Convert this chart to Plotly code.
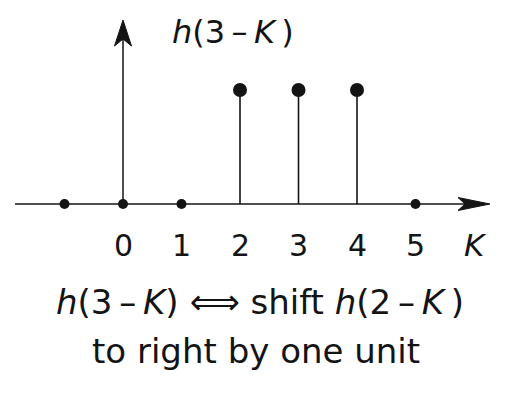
import plotly.graph_objects as go

# discrete sequence h(3-K)
k_vals = [-1, 0, 1, 2, 3, 4, 5]
h_vals = [0, 0, 0, 1, 1, 1, 0]
tick_labels = ["0", "1", "2", "3", "4", "5"]
tick_pos = [0, 1, 2, 3, 4, 5]

INK = "#141414"
FONT = "DejaVu Sans, sans-serif"
TS = "\u2009"  # thin space used in the formulas

# pixel layout of the drawing area (zero margins)
W, H = 505, 397
X0, XU = 123, 58.5    # pixel of K=0, pixels per unit
Y0, YU = 204, 114     # pixel of h=0, pixels per unit


def dx(p):
    return (p - X0) / XU


def dy(p):
    return (Y0 - p) / YU


def path(points):
    return "M " + " L ".join(f"{dx(px)},{dy(py)}" for px, py in points) + " Z"


fig = go.Figure()

# axes with barbed arrowheads
x_tail, x_tip = 15, 490
y_tip = 20
fig.add_shape(type="line", x0=dx(x_tail), y0=0, x1=dx(x_tip - 8), y1=0,
              line=dict(color=INK, width=1.5))
fig.add_shape(type="line", x0=0, y0=0, x1=0, y1=dy(y_tip + 8),
              line=dict(color=INK, width=1.5))
fig.add_shape(type="path", line=dict(color=INK, width=1), fillcolor=INK,
              path=path([(x_tip, Y0), (x_tip - 32, Y0 - 6.5), (x_tip - 25, Y0),
                         (x_tip - 32, Y0 + 6.5)]))
fig.add_shape(type="path", line=dict(color=INK, width=1), fillcolor=INK,
              path=path([(X0, y_tip), (X0 - 8.5, y_tip + 26), (X0, y_tip + 19),
                         (X0 + 8.5, y_tip + 26)]))

# stems for the nonzero samples
sx, sy = [], []
for k, h in zip(k_vals, h_vals):
    if h != 0:
        sx += [k, k, None]
        sy += [0, h, None]
fig.add_trace(go.Scatter(x=sx, y=sy, mode="lines",
                         line=dict(color=INK, width=1.6), hoverinfo="skip"))

# sample dots: large on top of stems, small on the axis
big = [(k, h) for k, h in zip(k_vals, h_vals) if h != 0]
small = [(k, h) for k, h in zip(k_vals, h_vals) if h == 0]
fig.add_trace(go.Scatter(x=[p[0] for p in big], y=[p[1] for p in big], mode="markers",
                         marker=dict(color=INK, size=14)))
fig.add_trace(go.Scatter(x=[p[0] for p in small], y=[p[1] for p in small], mode="markers",
                         marker=dict(color=INK, size=10)))

# tick labels
for t, lab in zip(tick_pos, tick_labels):
    fig.add_annotation(x=t, y=dy(245), text=lab, showarrow=False,
                       xanchor="center", yanchor="middle",
                       font=dict(family=FONT, size=30, color=INK))
fig.add_annotation(x=dx(475), y=dy(245), text="<i>K</i>", showarrow=False,
                   xanchor="center", yanchor="middle",
                   font=dict(family=FONT, size=31, color=INK))

# sequence label
fig.add_annotation(x=dx(233), y=dy(32),
                   text=f"<i>h</i>(3{TS}–{TS}<i>K</i>{TS})",
                   showarrow=False, xanchor="center", yanchor="middle",
                   font=dict(family=FONT, size=32, color=INK))

# caption
fig.add_annotation(x=260 / W, y=1 - 302 / H, xref="paper", yref="paper",
                   text=(f"<i>h</i>(3{TS}–{TS}<i>K</i>) <span style='font-size:35px'>⟺</span> "
                         f"shift <i>h</i>(2{TS}–{TS}<i>K</i>{TS})"),
                   showarrow=False, xanchor="center", yanchor="middle",
                   font=dict(family=FONT, size=34, color=INK))
fig.add_annotation(x=256 / W, y=1 - 351 / H, xref="paper", yref="paper",
                   text="to right by one unit", showarrow=False,
                   xanchor="center", yanchor="middle",
                   font=dict(family=FONT, size=34, color=INK))

fig.update_layout(
    width=W, height=H,
    margin=dict(l=0, r=0, t=0, b=0),
    paper_bgcolor="white", plot_bgcolor="white",
    showlegend=False,
    xaxis=dict(range=[-X0 / XU, (W - X0) / XU], visible=False, fixedrange=True),
    yaxis=dict(range=[(Y0 - H) / YU, Y0 / YU], visible=False, fixedrange=True),
)

fig.write_html("out.html")
